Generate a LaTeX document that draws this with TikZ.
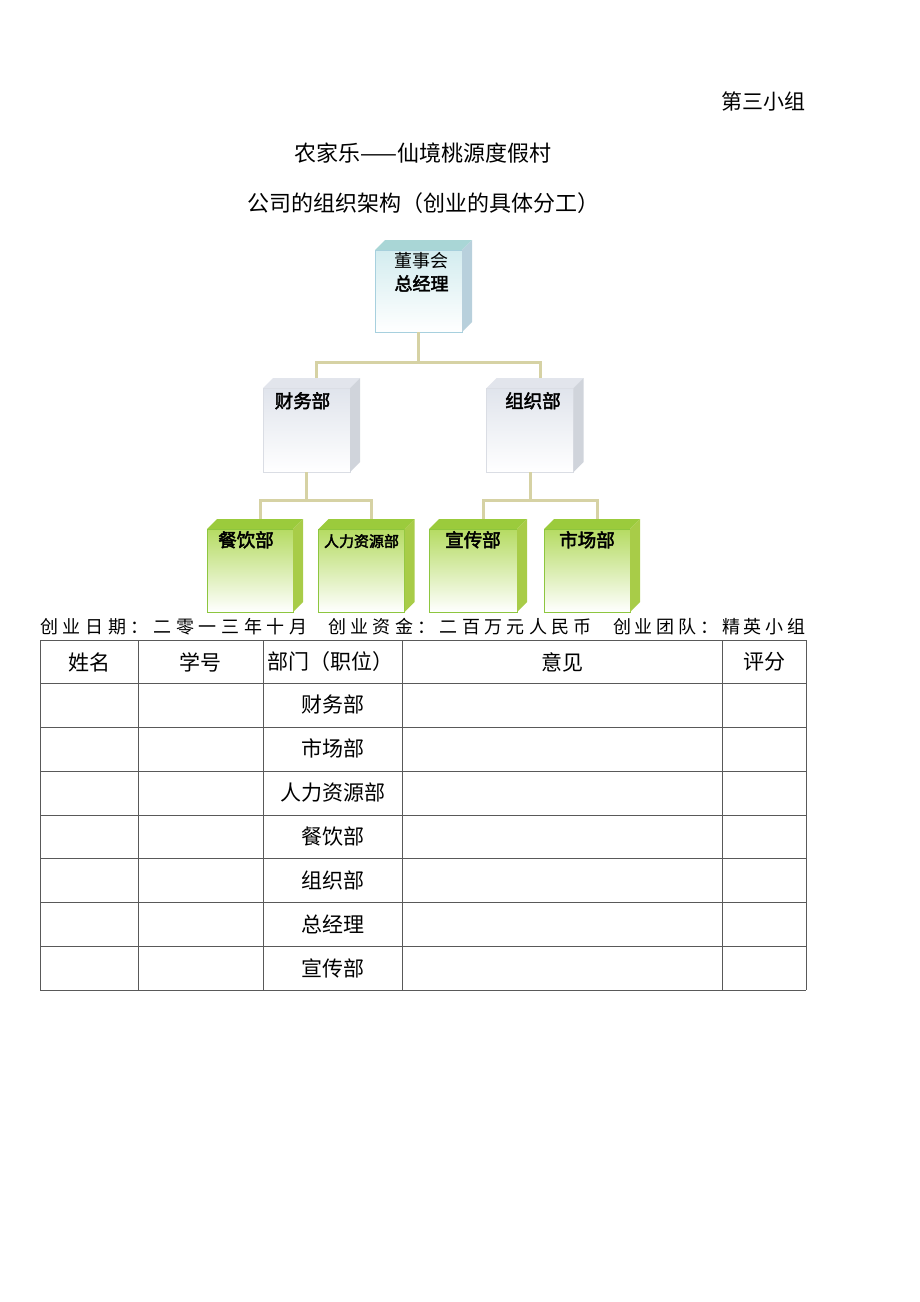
\documentclass[tikz,border=0pt]{standalone}
\usepackage{fontspec}
\setmainfont{Noto Sans CJK SC}[AutoFakeBold=2.5]
\newfontfamily\spreadfont{Noto Sans CJK SC}[LetterSpace=24]
\newfontfamily\wideSpreadfont{Noto Sans CJK SC}[LetterSpace=26]
\newfontfamily\tightSpreadfont{Noto Sans CJK SC}[LetterSpace=21]
\usetikzlibrary{calc,positioning}

\definecolor{boardline}{HTML}{A7D0DE}
\definecolor{boardtop}{HTML}{D3ECEF}
\definecolor{boardcap}{HTML}{A9D6D6}
\definecolor{boardside}{HTML}{B8D0DC}
\definecolor{midline}{HTML}{DADDE4}
\definecolor{midtop}{HTML}{E0E4EC}
\definecolor{midcap}{HTML}{E2E5EC}
\definecolor{midside}{HTML}{D0D4DB}
\definecolor{lowline}{HTML}{8DC63F}
\definecolor{lowtop}{HTML}{B5DB62}
\definecolor{lowcap}{HTML}{9BCB3C}
\definecolor{lowside}{HTML}{A8CC48}
\definecolor{linkclr}{HTML}{D6D2A4}

\begin{document}
\begin{tikzpicture} [
   x=1pt, y=-1pt,
   front/.style={draw, line width=0.6pt, inner sep=0pt, outer sep=0pt,
      minimum width=87pt, minimum height=83pt},
   headbox/.style={front, draw=boardline, top color=boardtop, bottom color=white},
   deptbox/.style={front, draw=midline, top color=midtop, bottom color=white, minimum height=84pt},
   unitbox/.style={front, draw=lowline, top color=lowtop, middle color=lowtop!25!white,
      bottom color=white, minimum width=86pt},
   boxtext/.style={anchor=north, inner sep=1pt, font=\bfseries\fontsize{18.5}{20}\selectfont},
   link/.style={draw=linkclr, line width=3pt},
   rule/.style={draw=black!65, line width=0.6pt},
   big/.style={font=\fontsize{21}{24}\selectfont}
]
   \useasboundingbox (0,0) rectangle (920,1302);

   % headings
   \node (group) [big, anchor=east, inner sep=0pt] at (806,101) {第三小组};
   \node (title) [big, font=\fontsize{22}{24}\selectfont] at (423,153) {农家乐——仙境桃源度假村};
   \node (subtitle) [big, font=\fontsize{22}{24}\selectfont] at (423,203) {公司的组织架构（创业的具体分工）};

   % chart
   \node (board) [headbox, minimum height=82pt,
      label={[boxtext, yshift=-1pt, xshift=3pt, align=center, font=\fontsize{18}{23}\selectfont]north:董事会\\\textbf{总经理}}]
      at (418.5,291) {};
   \node (fin) [deptbox, label={[boxtext, yshift=-3pt, xshift=-4pt]north:财务部}] at (306.5,430) {};
   \node (org) [deptbox, label={[boxtext, yshift=-3pt, xshift=3pt]north:组织部}] at (530,430) {};
   \node (food) [unitbox, label={[boxtext, yshift=-1pt, xshift=-4pt]north:餐饮部}] at (250,570.5) {};
   \node (hr) [unitbox, label={[boxtext, yshift=-4pt, font=\bfseries\fontsize{15}{17}\selectfont]north:人力资源部}] at (361.5,570.5) {};
   \node (promo) [unitbox, minimum width=88pt, label={[boxtext, yshift=-1pt]north:宣传部}] at (473,570.5) {};
   \node (market) [unitbox, label={[boxtext, yshift=-1pt]north:市场部}] at (587,570.5) {};

   \foreach \b/\c/\s in {board/boardcap/boardside, fin/midcap/midside, org/midcap/midside,
         food/lowcap/lowside, hr/lowcap/lowside, promo/lowcap/lowside, market/lowcap/lowside} {
      \fill [\c] (\b.north west) -- ++(10,-10) -- ($(\b.north east)+(10,-10)$) -- (\b.north east) -- cycle;
      \fill [\s] (\b.north east) -- ++(10,-10) -- ($(\b.south east)+(10,-10)$) -- (\b.south east) -- cycle;
      \coordinate (\b-back) at ($(\b.north)+(10,-10)$);
   }

   \path [link] (board.south) -- ++(0,30) -| (fin-back)
                (board.south) ++(0,30) -| (org-back)
                (fin.south) -- ++(0,28) -| (food-back)
                (fin.south) ++(0,28) -| (hr-back)
                (org.south) -- ++(0,28) -| (promo-back)
                (org.south) ++(0,28) -| (market-back);

   % founding data
   \node (date) [anchor=west, inner sep=0pt, font=\wideSpreadfont\fontsize{18}{20}\selectfont] at (40,627) {创业日期：二零一三年十月};
   \node (fund) [anchor=west, inner sep=0pt, font=\spreadfont\fontsize{18}{20}\selectfont] at (328,627) {创业资金：二百万元人民币};
   \node (team) [anchor=west, inner sep=0pt, font=\tightSpreadfont\fontsize{18}{20}\selectfont] at (613,627) {创业团队：精英小组};

   % table
   \foreach \y in {640,683,727,771,815,858,902,946,990}
      \draw [rule] (40,\y) -- (806,\y);
   \foreach \x in {40,138,263,402,722,806}
      \draw [rule] (\x,640) -- (\x,990);

   \node (hname) [big] at (89,662) {姓名};
   \node (hid) [big] at (200,662) {学号};
   \node (hdept) [big] at (330,662) {部门（职位）};
   \node (hnote) [big] at (562,662) {意见};
   \node (hscore) [big] at (764,662) {评分};
   \foreach \d [count=\i] in {财务部,市场部,人力资源部,餐饮部,组织部,总经理,宣传部}
      \node (dept\i) [big] at (332.5,{683+(\i-0.5)*43.85}) {\d};
\end{tikzpicture}
\end{document}
